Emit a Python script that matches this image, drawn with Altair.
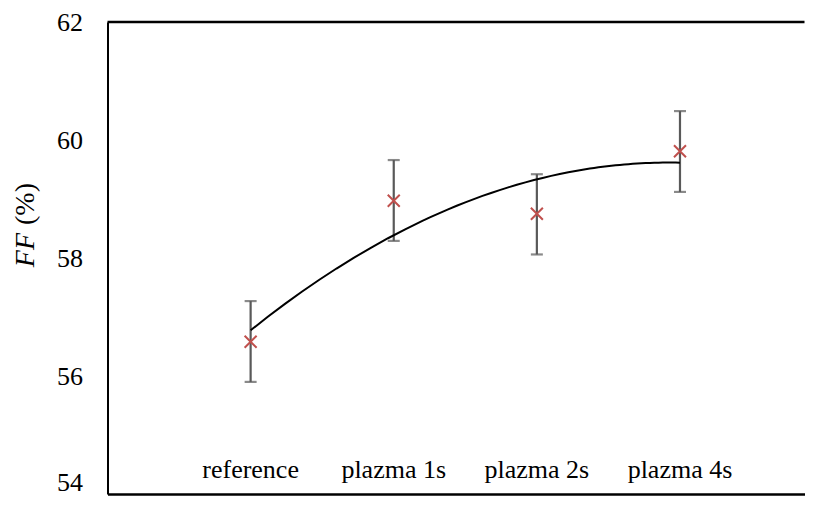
import altair as alt
import pandas as pd

categories = ["reference", "plazma 1s", "plazma 2s", "plazma 4s"]
positions = [1, 2, 3, 4]
ff_values = [56.58, 58.97, 58.75, 59.81]
err_low = [55.90, 58.29, 58.06, 59.12]
err_high = [57.27, 59.66, 59.42, 60.49]
y_ticks = [54, 56, 58, 60, 62]

df = pd.DataFrame({
    "cat": categories,
    "x": positions,
    "y": ff_values,
    "lo": err_low,
    "hi": err_high,
})

FONT = "Liberation Serif"
W, H = 697, 472

xs = alt.Scale(domain=[0, 4.87], nice=False, zero=False)
ys = alt.Scale(domain=[54, 62], nice=False, zero=False)

x_axis = alt.Axis(labels=False, ticks=False, grid=False, title=None,
                  domainColor="black", domainWidth=2.5)
y_axis = alt.Axis(values=y_ticks, format="d", ticks=False, grid=False, title=None,
                  labelFont=FONT, labelFontSize=26, labelColor="black",
                  labelPadding=25, domainColor="black", domainWidth=2,
                  labelOffset={"condition": {"test": "datum.value == 54", "value": -12},
                               "value": 0})


def X(field="x"):
    return alt.X(f"{field}:Q", scale=xs, axis=x_axis)


def Y(field):
    return alt.Y(f"{field}:Q", scale=ys, axis=y_axis)


base = alt.Chart(df)

err = base.mark_rule(color="#595959", strokeWidth=2.2).encode(
    x=X(), y=Y("lo"), y2="hi:Q")
cap_lo = base.mark_tick(color="#595959", thickness=2.2, size=12,
                        orient="horizontal").encode(x=X(), y=Y("lo"))
cap_hi = base.mark_tick(color="#595959", thickness=2.2, size=12,
                        orient="horizontal").encode(x=X(), y=Y("hi"))

trend = base.transform_regression(
    "x", "y", method="poly", order=2, extent=[1, 4]
).mark_line(color="black", strokeWidth=2).encode(x=X(), y=Y("y"))

pts = base.mark_point(
    shape="M-1,-1L1,1M-1,1L1,-1", size=144, filled=False,
    stroke="#C0504D", strokeWidth=2, opacity=1
).encode(x=X(), y=Y("y"))

labels = base.mark_text(font=FONT, fontSize=26, color="black",
                        align="center", baseline="alphabetic").encode(
    x=X(), y=alt.value(456), text="cat:N")

top_line = alt.Chart(pd.DataFrame({"a": [0]})).mark_rule(
    color="black", strokeWidth=2.5).encode(
    x=alt.value(0), x2=alt.value(W), y=alt.value(0))

title_ff = alt.Chart(pd.DataFrame({"t": ["FF"]})).mark_text(
    font=FONT, fontSize=28, fontStyle="italic", color="black",
    angle=270, align="right", baseline="alphabetic").encode(
    x=alt.value(-73.5), y=alt.value(211), text="t:N")
title_pc = alt.Chart(pd.DataFrame({"t": ["(%)"]})).mark_text(
    font=FONT, fontSize=28, color="black",
    angle=270, align="left", baseline="alphabetic").encode(
    x=alt.value(-73.5), y=alt.value(203), text="t:N")

chart = alt.layer(
    err, cap_lo, cap_hi, trend, pts, labels, top_line, title_ff, title_pc
).properties(
    width=W, height=H, background="white",
    autosize=alt.AutoSizeParams(type="none"),
    padding={"left": 99.5, "top": 14, "right": 0, "bottom": 3},
).configure_view(stroke=None).configure_axis(labelFont=FONT, grid=False)

chart.save("out.html", embed_options={"renderer": "svg", "actions": False})
